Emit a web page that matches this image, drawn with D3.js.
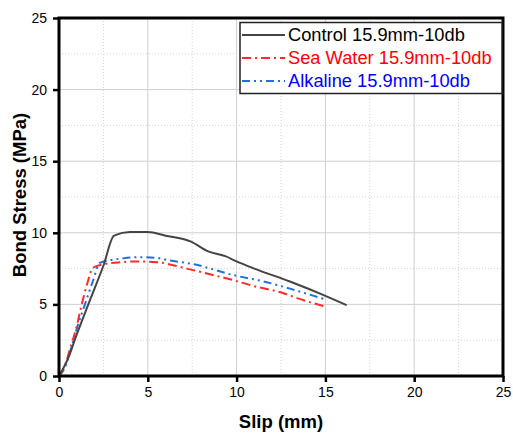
<!DOCTYPE html>
<html><head><meta charset="utf-8">
<script src="https://cdn.jsdelivr.net/npm/d3@7"></script>
<style>body{margin:0;background:#fff}svg{display:block;font-family:"Liberation Sans",Arial,sans-serif}</style>
</head><body><svg id="c" width="513" height="438"></svg>
<script>
const controlX = [0,0.5,1.0,1.65,2.5,3.1,4.0,5.0,6.0,7.4,8.4,9.4,10.0,11.0,13.0,15.0,16.2];
const controlY = [0,1.2,2.9,5.0,7.7,9.8,10.05,10.05,9.8,9.4,8.7,8.35,8.0,7.5,6.6,5.6,4.95];
const seaX = [0,0.3,0.6,1.0,1.28,1.6,1.9,2.5,3.5,4.5,5.5,7.2,8.5,9.8,10.9,12.6,13.5,15.0];
const seaY = [0,0.6,1.8,3.5,5.0,6.5,7.55,7.8,7.95,8.0,7.95,7.5,7.1,6.7,6.3,5.8,5.4,4.85];
const alkX = [0,0.3,0.7,1.0,1.46,1.9,2.3,2.9,3.5,4.5,5.5,6.1,7.6,9.8,11.7,13.0,15.0];
const alkY = [0,0.5,2.0,3.3,5.0,6.6,7.9,8.1,8.2,8.3,8.25,8.1,7.8,7.05,6.55,6.1,5.35];
const seriesNames = ["Control 15.9mm-10db","Sea Water 15.9mm-10db","Alkaline 15.9mm-10db"];
const xTicks = [0,5,10,15,20,25];
const yTicks = [0,5,10,15,20,25];
const minorTicks = [2.5,7.5,12.5,17.5,22.5];
const xTitle = "Slip (mm)";
const yTitle = "Bond Stress (MPa)";

const L=59,R=503,T=18,B=376;
const svg=d3.select("#c");
const x=d3.scaleLinear().domain([0,25]).range([L,R]);
const y=d3.scaleLinear().domain([0,25]).range([B,T]);

const g=svg.append("g");
// minor grid
g.selectAll(".mx").data(minorTicks).join("line").attr("x1",d=>x(d)).attr("x2",d=>x(d)).attr("y1",T).attr("y2",B)
 .attr("stroke","#d4d4d4").attr("stroke-width",1).attr("stroke-dasharray","1,2");
g.selectAll(".my").data(minorTicks).join("line").attr("y1",d=>y(d)).attr("y2",d=>y(d)).attr("x1",L).attr("x2",R)
 .attr("stroke","#d4d4d4").attr("stroke-width",1).attr("stroke-dasharray","1,2");
// major grid
g.selectAll(".gx").data(xTicks.slice(1,-1)).join("line").attr("x1",d=>x(d)).attr("x2",d=>x(d)).attr("y1",T).attr("y2",B)
 .attr("stroke","#cfcfcf").attr("stroke-width",1);
g.selectAll(".gy").data(yTicks.slice(1,-1)).join("line").attr("y1",d=>y(d)).attr("y2",d=>y(d)).attr("x1",L).attr("x2",R)
 .attr("stroke","#cfcfcf").attr("stroke-width",1);

const line=d3.line().x(d=>x(d[0])).y(d=>y(d[1])).curve(d3.curveMonotoneX);
const series=[
 {xs:controlX,ys:controlY,color:"#444444",dash:null,text:"#000000"},
 {xs:seaX,ys:seaY,color:"#ff2a2a",dash:"9,4,2,4",text:"#ff0000"},
 {xs:alkX,ys:alkY,color:"#1f6fe6",dash:"8,4,2,4,2,4",text:"#0000ff"}
];
series.slice().reverse().forEach(s=>{
 svg.append("path").datum(s.xs.map((v,i)=>[v,s.ys[i]])).attr("d",line).attr("fill","none")
  .attr("stroke",s.color).attr("stroke-width",2).attr("stroke-dasharray",s.dash);
});

// axes
const xa=d3.axisBottom(x).tickValues(xTicks).tickSize(6).tickPadding(5).tickFormat(d3.format("d"));
const ya=d3.axisLeft(y).tickValues(yTicks).tickSize(6).tickPadding(6).tickFormat(d3.format("d"));
const gx=svg.append("g").attr("transform",`translate(0,${B})`).call(xa);
const gy=svg.append("g").attr("transform",`translate(${L},0)`).call(ya);
[gx,gy].forEach(a=>{a.select(".domain").remove();a.selectAll("line").attr("stroke","#000").attr("stroke-width",2.5);
 a.selectAll("text").attr("font-size",14).attr("fill","#000").attr("font-family","Liberation Sans, Arial, sans-serif");});
// frame
svg.append("rect").attr("x",L).attr("y",T).attr("width",R-L).attr("height",B-T).attr("fill","none").attr("stroke","#000").attr("stroke-width",3);

svg.append("text").attr("x",(L+R)/2).attr("y",428).attr("text-anchor","middle").attr("font-weight","bold").attr("font-size",18.5).text(xTitle);
svg.append("text").attr("transform",`translate(26,195) rotate(-90)`).attr("text-anchor","middle").attr("font-weight","bold").attr("font-size",18.5).text(yTitle);

// legend
const lg=svg.append("g");
lg.append("rect").attr("x",240).attr("y",22.5).attr("width",262).attr("height",71).attr("fill","#fff").attr("stroke","#222").attr("stroke-width",1.5);
series.forEach((s,i)=>{
 const ly=35+i*23;
 lg.append("line").attr("x1",242).attr("x2",285).attr("y1",ly).attr("y2",ly).attr("stroke",s.color).attr("stroke-width",2).attr("stroke-dasharray",s.dash);
 lg.append("text").attr("x",288).attr("y",ly+6.3).attr("font-size",18.3).attr("fill",s.text).text(seriesNames[i]);
});
</script></body></html>
